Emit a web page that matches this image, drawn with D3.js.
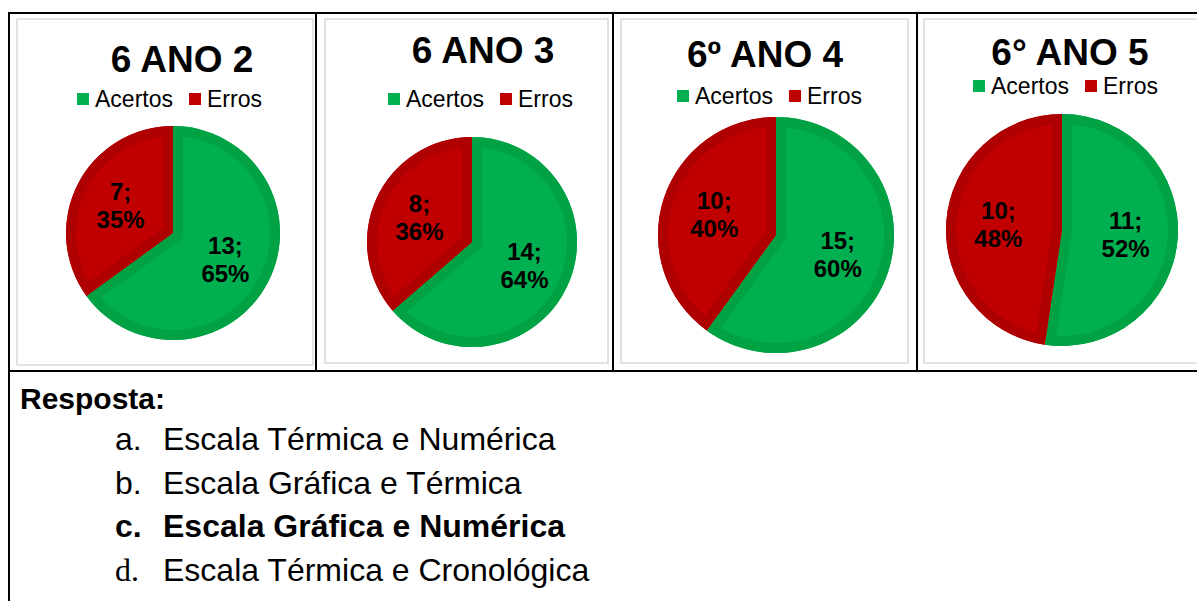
<!DOCTYPE html>
<html>
<head>
<meta charset="utf-8">
<script src="https://cdn.jsdelivr.net/npm/d3@7"></script>
<style>
	body { margin: 0; background: #fff; }
	svg text { font-family: "Liberation Sans", Arial, sans-serif; }
	svg text.serif { font-family: "Liberation Serif", "Times New Roman", serif; }
</style>
</head>
<body>
<div id="chart"></div>
<script>
// chart data
var titles = ["6 ANO 2", "6 ANO 3", "6º ANO 4", "6° ANO 5"];
var categories = ["Acertos", "Erros"];
var acertos = [13, 14, 15, 11];
var erros = [7, 8, 10, 10];
var respostaItems = ["Escala Térmica e Numérica", "Escala Gráfica e Térmica", "Escala Gráfica e Numérica", "Escala Térmica e Cronológica"];
var respostaMarks = ["a.", "b.", "c.", "d."];

// colours
var fillColor = d3.scaleOrdinal().domain(categories).range(["#00b050", "#c00000"]);
var edgeColor = d3.scaleOrdinal().domain(categories).range(["#00a244", "#ae0000"]);

// layout of each cell (box = grey chart frame)
var cells = [
	{ box: [17, 19, 313, 365], cx: 173, cy: 233, r: 107, tx: 182, ty: 72, ly: 99, lx: 77 },
	{ box: [325, 19, 608, 363], cx: 472, cy: 242, r: 105, tx: 483, ty: 63, ly: 99, lx: 388 },
	{ box: [621, 19, 908, 363], cx: 776, cy: 235, r: 118, tx: 765, ty: 67, ly: 96, lx: 677 },
	{ box: [924, 19, 1215, 363], cx: 1062, cy: 230, r: 116, tx: 1070, ty: 65, ly: 86, lx: 973 }
];

var svgWidth = 1197;
var svgHeight = 601;

var svg = d3.select("#chart")
	.append("svg")
	.attr("width", svgWidth)
	.attr("height", svgHeight);

var defs = svg.append("defs");

var pie = d3.pie().sort(null).value(d => d.value);

titles.forEach((title, i) => {
	var c = cells[i];
	var data = [
		{ name: categories[0], value: acertos[i] },
		{ name: categories[1], value: erros[i] }
	];
	var total = acertos[i] + erros[i];

	// grey chart frame
	svg.append("rect")
		.attr("x", c.box[0])
		.attr("y", c.box[1])
		.attr("width", c.box[2] - c.box[0])
		.attr("height", c.box[3] - c.box[1])
		.attr("fill", "#fff")
		.attr("stroke", "#d9d9d9")
		.attr("stroke-width", 1.5);

	// title
	svg.append("text")
		.attr("x", c.tx)
		.attr("y", c.ty)
		.attr("text-anchor", "middle")
		.attr("font-size", 37)
		.attr("font-weight", "bold")
		.attr("fill", "#000")
		.text(title);

	// legend
	var legend = svg.append("g")
		.attr("transform", `translate(${c.lx}, ${c.ly})`);
	var lx = 0;
	categories.forEach(cat => {
		legend.append("rect")
			.attr("x", lx)
			.attr("y", -6)
			.attr("width", 12)
			.attr("height", 12)
			.attr("fill", fillColor(cat));
		var t = legend.append("text")
			.attr("x", lx + 18)
			.attr("y", 8)
			.attr("font-size", 23)
			.attr("fill", "#000")
			.text(cat);
		lx += 18 + t.node().getComputedTextLength() + 16;
	});

	// pie
	var arc = d3.arc().innerRadius(0).outerRadius(c.r);
	var labelArc = d3.arc().innerRadius(c.r * 0.55).outerRadius(c.r * 0.55);
	var g = svg.append("g")
		.attr("transform", `translate(${c.cx}, ${c.cy})`);

	var arcs = pie(data);
	arcs.forEach((a, j) => {
		var clipId = `clip-${i}-${j}`;
		defs.append("clipPath")
			.attr("id", clipId)
			.append("path")
			.attr("d", arc(a));

		g.append("path")
			.attr("d", arc(a))
			.attr("fill", fillColor(a.data.name));

		// darker inner edge of each slice
		g.append("path")
			.attr("d", arc(a))
			.attr("fill", "none")
			.attr("stroke", edgeColor(a.data.name))
			.attr("stroke-width", 20)
			.attr("stroke-linejoin", "miter")
			.attr("clip-path", `url(#${clipId})`);
	});

	// data labels
	arcs.forEach(a => {
		var p = labelArc.centroid(a);
		var lbl = g.append("text")
			.attr("text-anchor", "middle")
			.attr("font-size", 24)
			.attr("font-weight", "bold")
			.attr("fill", "#000");
		lbl.append("tspan")
			.attr("x", p[0])
			.attr("y", p[1] - 6)
			.text(a.data.value + ";");
		lbl.append("tspan")
			.attr("x", p[0])
			.attr("y", p[1] + 22)
			.text(d3.format(".0%")(a.data.value / total));
	});
});

// table lines
var lineColor = "#000";
var tableLines = [
	[8, 13, 1197, 13],
	[8, 371, 1197, 371],
	[9, 12, 9, 601],
	[316, 13, 316, 371],
	[613, 13, 613, 371],
	[917, 13, 917, 371]
];
tableLines.forEach(l => {
	svg.append("line")
		.attr("x1", l[0]).attr("y1", l[1])
		.attr("x2", l[2]).attr("y2", l[3])
		.attr("stroke", lineColor)
		.attr("stroke-width", 2);
});

// answer block
svg.append("text")
	.attr("x", 20)
	.attr("y", 409)
	.attr("font-size", 30)
	.attr("font-weight", "bold")
	.attr("fill", "#000")
	.text("Resposta:");

var rowY = d3.scalePoint()
	.domain(respostaMarks)
	.range([450, 581]);

respostaItems.forEach((item, i) => {
	var mark = respostaMarks[i];
	var bold = mark === "c.";
	svg.append("text")
		.attr("class", mark === "d." ? "serif" : null)
		.attr("x", 115)
		.attr("y", rowY(mark))
		.attr("font-size", 32)
		.attr("font-weight", bold ? "bold" : "normal")
		.attr("fill", "#000")
		.text(mark);
	svg.append("text")
		.attr("x", 163)
		.attr("y", rowY(mark))
		.attr("font-size", 32)
		.attr("font-weight", bold ? "bold" : "normal")
		.attr("fill", "#000")
		.text(item);
});
</script>
</body>
</html>
